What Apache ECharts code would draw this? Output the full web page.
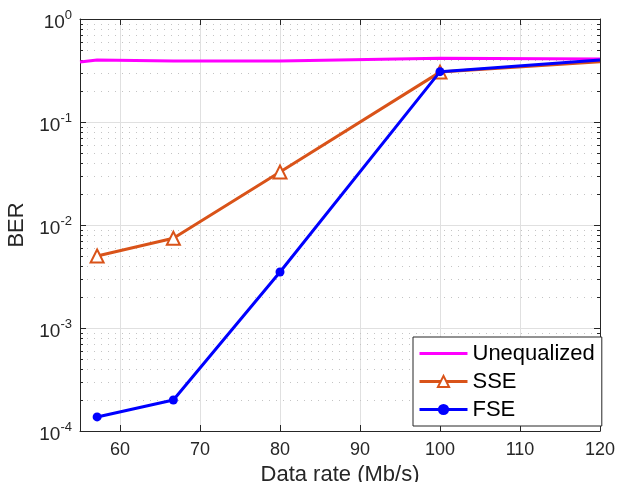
<!DOCTYPE html>
<html>
<head>
<meta charset="utf-8">
<script src="https://cdn.jsdelivr.net/npm/echarts@6/dist/echarts.min.js"></script>
<style>
html,body{margin:0;padding:0;background:#fff;}
#chart{width:619px;height:482px;}
</style>
</head>
<body>
<div id="chart"></div>
<script>
// ---- data ----
const unequalizedX = [55, 57.14, 66.67, 80, 100, 120];
const unequalizedBER = [0.383, 0.40, 0.391, 0.392, 0.416, 0.41];
const rateX = [57.14, 66.67, 80, 100, 120];
const sseBER = [0.0050, 0.00743, 0.0327, 0.305, 0.385];
const fseBER = [1.37e-4, 2.0e-4, 3.5e-3, 0.308, 0.40];
const seriesNames = ['Unequalized', 'SSE', 'FSE'];
const xTicks = [60, 70, 80, 90, 100, 110, 120];
const yDecades = [1e-4, 1e-3, 1e-2, 1e-1, 1];
const xMin = 55, xMax = 120, yMin = 1e-4, yMax = 1;

const FONT = 'Liberation Sans, Arial, Helvetica, sans-serif';
const AX = '#262626';

// grid line specs: [kind, value]; kind 0 = vertical major, 2 = minor horizontal
const gridData = [];
xTicks.forEach(v => gridData.push([0, v]));
for (let i = 0; i < yDecades.length - 1; i++) {
  for (let k = 2; k <= 9; k++) gridData.push([2, yDecades[i] * k]);
}

function pts(xs, ys, noMarkerAt) {
  return xs.map((x, i) => {
    const it = { value: [x, ys[i]] };
    if (x === noMarkerAt) it.symbol = 'none';
    return it;
  });
}

// plain line legend icon (degenerate sub-paths keep the full 48x14 box)
const lineIcon = 'path://M0,0L0.01,0M0,5.5L48,5.5L48,8.5L0,8.5ZM0,14L0.01,14M48,0L48.01,0';

const chart = echarts.init(document.getElementById('chart'), null, { renderer: 'canvas' });

const option = {
  animation: false,
  backgroundColor: '#fff',
  grid: { left: 80, right: 19, top: 19, bottom: 51, containLabel: false, outerBoundsMode: 'none' },
  legend: {
    data: [
      { name: seriesNames[0], icon: lineIcon },
      { name: seriesNames[1] },
      { name: seriesNames[2] }
    ],
    orient: 'vertical',
    left: 413, top: 337,
    backgroundColor: '#fff',
    borderColor: AX, borderWidth: 1,
    padding: [4, 7, 4, 5],
    itemWidth: 48, itemHeight: 14, itemGap: 3,
    lineStyle: { width: 3 },
    textStyle: { fontFamily: FONT, fontSize: 22, color: '#000', lineHeight: 25 },
    z: 10
  },
  xAxis: [{
    type: 'value', min: xMin, max: xMax, position: 'bottom',
    name: 'Data rate (Mb/s)', nameLocation: 'middle', nameGap: 26,
    nameTextStyle: { fontFamily: FONT, fontSize: 22, color: AX },
    axisLine: { show: true, onZero: false, lineStyle: { color: AX, width: 1 } },
    axisTick: { show: true, inside: true, length: 6, lineStyle: { color: AX }, customValues: xTicks },
    axisLabel: { show: true, customValues: xTicks, fontFamily: FONT, fontSize: 18, color: AX, margin: 10 },
    splitLine: { show: false }
  }, {
    type: 'value', min: xMin, max: xMax, position: 'top',
    axisLine: { show: true, onZero: false, lineStyle: { color: AX, width: 1 } },
    axisTick: { show: true, inside: true, length: 6, lineStyle: { color: AX }, customValues: xTicks },
    axisLabel: { show: false },
    splitLine: { show: false }
  }],
  yAxis: [{
    type: 'log', logBase: 10, min: yMin, max: yMax, position: 'left',
    name: 'BER', nameLocation: 'middle', nameGap: 52,
    nameTextStyle: { fontFamily: FONT, fontSize: 22, color: AX },
    axisLine: { show: true, onZero: false, lineStyle: { color: AX, width: 1 } },
    axisTick: { show: true, inside: true, length: 6, lineStyle: { color: AX } },
    axisLabel: {
      show: true, margin: 8,
      formatter: v => '{b|10}{s|' + Math.round(Math.log10(v)) + '}',
      rich: {
        b: { fontFamily: FONT, fontSize: 19, color: AX, lineHeight: 20, padding: [7, 0, 0, 0] },
        s: { fontFamily: FONT, fontSize: 13, color: AX, lineHeight: 14, verticalAlign: 'top' }
      }
    },
    splitLine: { show: true, lineStyle: { color: '#e0e0e0', width: 1 } }
  }, {
    type: 'log', logBase: 10, min: yMin, max: yMax, position: 'right',
    axisLine: { show: true, onZero: false, lineStyle: { color: AX, width: 1 } },
    axisTick: { show: true, inside: true, length: 6, lineStyle: { color: AX } },
    axisLabel: { show: false },
    splitLine: { show: false }
  }],
  series: [{
    type: 'custom',
    name: 'grid',
    silent: true,
    clip: false,
    z: 0,
    xAxisIndex: 0, yAxisIndex: 0,
    data: gridData,
    renderItem: function (params, api) {
      const kind = api.value(0), v = api.value(1);
      if (kind === 0) {
        const p1 = api.coord([v, yMin]), p2 = api.coord([v, yMax]);
        const x = Math.round(p1[0]) + 0.5;
        return { type: 'line', shape: { x1: x, y1: p1[1], x2: x, y2: p2[1] },
                 style: { stroke: '#e0e0e0', lineWidth: 1 } };
      }
      const a = api.coord([xMin, v]), b = api.coord([xMax, v]);
      const y = Math.round(a[1]) + 0.5;
      return { type: 'group', children: [
        { type: 'line', shape: { x1: a[0], y1: y, x2: b[0], y2: y },
          style: { stroke: '#c4c4c4', lineWidth: 1, lineDash: [1, 6] } },
        { type: 'line', shape: { x1: a[0], y1: y, x2: a[0] + 3, y2: y },
          style: { stroke: AX, lineWidth: 1 } },
        { type: 'line', shape: { x1: b[0], y1: y, x2: b[0] - 3, y2: y },
          style: { stroke: AX, lineWidth: 1 } }
      ] };
    }
  }, {
    type: 'line', name: seriesNames[0],
    data: pts(unequalizedX, unequalizedBER, null),
    showSymbol: false, symbol: 'none',
    lineStyle: { color: '#ff00ff', width: 3 },
    itemStyle: { color: '#ff00ff' },
    z: 3
  }, {
    type: 'line', name: seriesNames[1],
    data: pts(rateX, sseBER, 120),
    symbol: 'emptyTriangle', symbolSize: 13, showAllSymbol: true,
    lineStyle: { color: '#d95319', width: 3 },
    itemStyle: { color: '#d95319', borderColor: '#d95319', borderWidth: 2 },
    z: 4
  }, {
    type: 'line', name: seriesNames[2],
    data: pts(rateX, fseBER, 120),
    symbol: 'circle', symbolSize: 9, showAllSymbol: true,
    lineStyle: { color: '#0000ff', width: 3 },
    itemStyle: { color: '#0000ff' },
    z: 5
  }]
};
chart.setOption(option);
</script>
</body>
</html>
